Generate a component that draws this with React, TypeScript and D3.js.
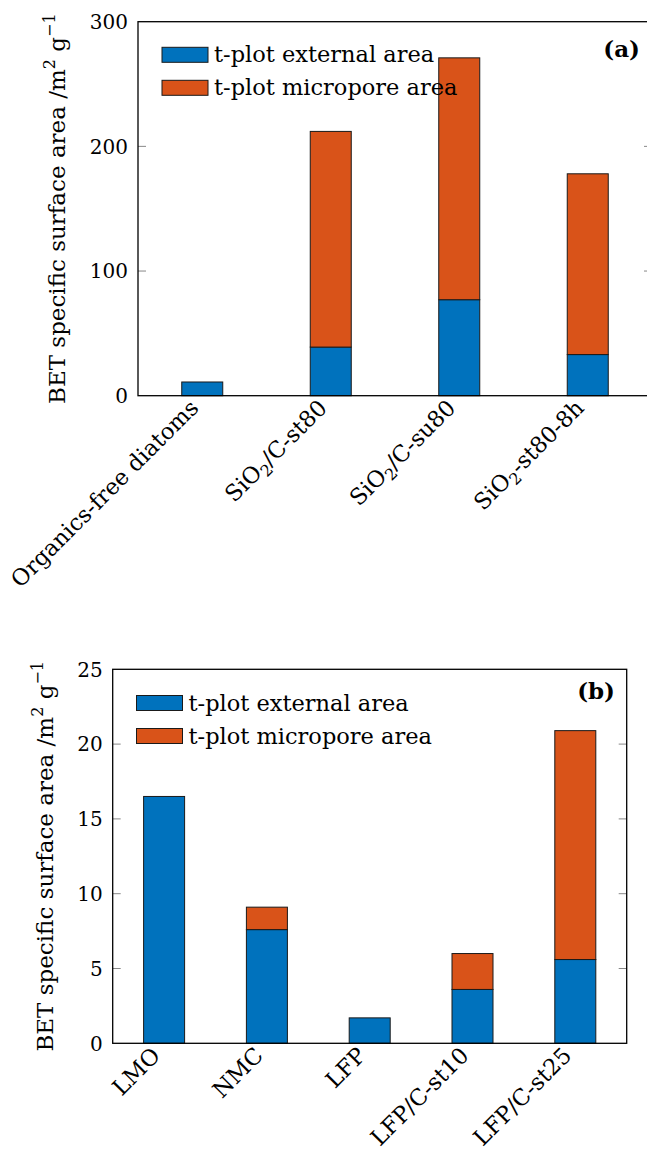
import React from "react";
import * as d3 from "d3";

// Panel (a): diatom-derived silica samples
const categoriesA = ["Organics-free diatoms", "SiO2/C-st80", "SiO2/C-su80", "SiO2-st80-8h"];
const externalA = [11, 39, 77, 33];
const microporeA = [0, 173, 194, 145];
const ticksA = [0, 100, 200, 300];

// Panel (b): cathode materials
const categoriesB = ["LMO", "NMC", "LFP", "LFP/C-st10", "LFP/C-st25"];
const externalB = [16.5, 7.6, 1.7, 3.6, 5.6];
const microporeB = [0, 1.5, 0, 2.4, 15.3];
const ticksB = [0, 5, 10, 15, 20, 25];

const seriesNames = ["t-plot external area", "t-plot micropore area"];
const seriesColors = ["#0072BD", "#D95319"];

const FONT = "DejaVu Serif";

type PanelProps = {
  cats: string[];
  ext: number[];
  micro: number[];
  ticks: number[];
  yMax: number;
  left: number;
  right: number;
  top: number;
  bottom: number;
  tag: string;
  tagX: number;
  tagY: number;
  legendX: number;
  legendY: number;
  ylabelX: number;
};

// Renders "SiO2" with a subscript 2
function CatLabel({ text }: { text: string }) {
  const parts = text.split(/(O2)/);
  return (
    <>
      {parts.map((p, i) =>
        p === "O2" ? (
          <React.Fragment key={i}>
            <tspan>O</tspan>
            <tspan dy={5} fontSize={16}>2</tspan>
            <tspan dy={-5}>{"\u200b"}</tspan>
          </React.Fragment>
        ) : (
          <tspan key={i}>{p}</tspan>
        )
      )}
    </>
  );
}

function Panel(p: PanelProps) {
  const x = d3.scalePoint<string>().domain(p.cats).range([p.left, p.right]).padding(0.5);
  const y = d3.scaleLinear().domain([0, p.yMax]).range([p.bottom, p.top]);
  const rows = p.cats.map((c, i) => ({ cat: c, external: p.ext[i], micropore: p.micro[i] }));
  const stacked = d3.stack<any>().keys(["external", "micropore"])(rows);
  const barW = 41;
  const tickFs = 20;
  const fs = 22.5;

  return (
    <g fontFamily={FONT}>
      {/* bars */}
      {stacked.map((s, si) =>
        s.map((d, i) =>
          d[1] - d[0] > 0 ? (
            <rect
              key={`${si}-${i}`}
              x={x(p.cats[i])! - barW / 2}
              y={y(d[1])}
              width={barW}
              height={y(d[0]) - y(d[1])}
              fill={seriesColors[si]}
              stroke="#1a1a1a"
              strokeWidth={1}
            />
          ) : null
        )
      )}
      {/* y ticks (inward, both sides) */}
      {p.ticks.map((t) => (
        <g key={t}>
          {t > 0 && t < p.yMax && (
            <>
              <line x1={p.left} x2={p.left + 8} y1={y(t)} y2={y(t)} stroke="#888" strokeWidth={1} />
              <line x1={p.right} x2={p.right - 8} y1={y(t)} y2={y(t)} stroke="#888" strokeWidth={1} />
            </>
          )}
          <text x={p.left - 10} y={y(t)} dy="0.36em" textAnchor="end" fontSize={tickFs} fill="#000">
            {t}
          </text>
        </g>
      ))}
      {/* frame */}
      <rect x={p.left} y={p.top} width={p.right - p.left} height={p.bottom - p.top} fill="none" stroke="#000" strokeWidth={1.3} />
      {/* category labels */}
      {p.cats.map((c) => {
        const ax = x(c)! - 8;
        const ay = p.bottom + 8;
        return (
          <text key={c} x={ax} y={ay} dy="0.35em" textAnchor="end" fontSize={fs} transform={`rotate(-45 ${ax} ${ay})`}>
            <CatLabel text={c} />
          </text>
        );
      })}
      {/* y axis label */}
      <text
        transform={`translate(${p.ylabelX},${(p.top + p.bottom) / 2}) rotate(-90)`}
        textAnchor="middle"
        fontSize={23}
      >
        <tspan>BET specific surface area  /m</tspan>
        <tspan dy={-10} fontSize={16}>2</tspan>
        <tspan dy={10}>{" g"}</tspan>
        <tspan dy={-10} fontSize={16}>−1</tspan>
      </text>
      {/* legend */}
      {seriesNames.map((n, i) => (
        <g key={n} transform={`translate(${p.legendX},${p.legendY + i * 33})`}>
          <rect x={0} y={0} width={46} height={15} fill={seriesColors[i]} stroke="#1a1a1a" strokeWidth={1} />
          <text x={52} y={15} fontSize={fs}>
            {n}
          </text>
        </g>
      ))}
      {/* panel tag */}
      <text x={p.tagX} y={p.tagY} textAnchor="end" fontSize={23} fontWeight="bold">
        {p.tag}
      </text>
    </g>
  );
}

export default function App() {
  return (
    <svg
      width={647}
      height={1158}
      style={{ position: "absolute", left: 0, top: 0, background: "#fff" }}
    >
      <rect width={647} height={1158} fill="#fff" />
      <Panel
        cats={categoriesA}
        ext={externalA}
        micro={microporeA}
        ticks={ticksA}
        yMax={300}
        left={138}
        right={652}
        top={21.7}
        bottom={395.7}
        tag="(a)"
        tagX={640}
        tagY={57}
        legendX={162}
        legendY={47.3}
        ylabelX={65}
      />
      <Panel
        cats={categoriesB}
        ext={externalB}
        micro={microporeB}
        ticks={ticksB}
        yMax={25}
        left={112.7}
        right={626.7}
        top={669.3}
        bottom={1043.3}
        tag="(b)"
        tagX={615}
        tagY={699}
        legendX={136.5}
        legendY={695.5}
        ylabelX={53}
      />
    </svg>
  );
}
